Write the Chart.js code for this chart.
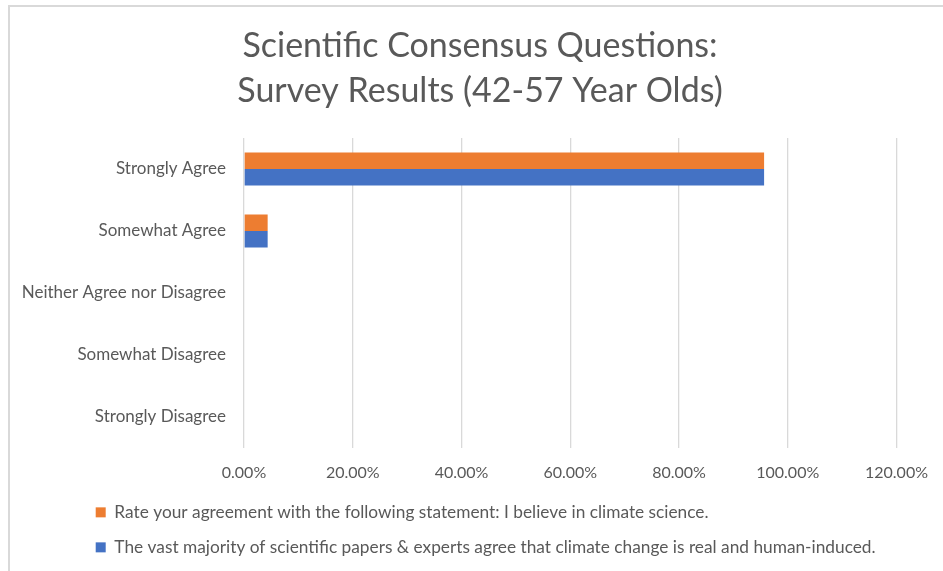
<!DOCTYPE html>
<html>
<head>
<meta charset="utf-8">
<script src="https://cdn.jsdelivr.net/npm/chart.js@4.4.0/dist/chart.umd.min.js"></script>
<style>
  html, body { margin: 0; padding: 0; background: #ffffff; }
  #wrap { position: relative; width: 943px; height: 571px; overflow: hidden; }
  #frame { position: absolute; left: 8px; top: 5px; right: -10px; bottom: -10px;
           border-left: 2px solid #d9d9d9; border-top: 2px solid #d9d9d9; pointer-events: none; }
  canvas { position: absolute; left: 0; top: 0; }
</style>
</head>
<body>
<div id="wrap">
  <div id="frame"></div>
  <canvas id="chart" width="943" height="571"></canvas>
</div>
<script>
const titleLines = ['Scientific Consensus Questions:', 'Survey Results (42-57 Year Olds)'];
const categories = ['Strongly Agree', 'Somewhat Agree', 'Neither Agree nor Disagree', 'Somewhat Disagree', 'Strongly Disagree'];
const seriesNames = [
  'Rate your agreement with the following statement: I believe in climate science.',
  'The vast majority of scientific papers & experts agree that climate change is real and human-induced.'
];
const beliefValues = [0.9565, 0.0435, 0, 0, 0];
const consensusValues = [0.9565, 0.0435, 0, 0, 0];
const tickLabels = ['0.00%', '20.00%', '40.00%', '60.00%', '80.00%', '100.00%', '120.00%'];

const FONT = 'Lato, "Open Sans", sans-serif';
const TEXT = '#595959';

const boxShift = {
  id: 'boxShift',
  afterLayout(chart) {
    if (chart.legend) { chart.legend.left = 78; }
    if (chart.titleBlock) {
      chart.titleBlock.left += 31;
      chart.titleBlock.right += 31;
    }
  }
};

new Chart(document.getElementById('chart'), {
  type: 'bar',
  data: {
    labels: categories,
    datasets: [
      { label: seriesNames[0], data: beliefValues, backgroundColor: '#ED7D31', borderWidth: 0 },
      { label: seriesNames[1], data: consensusValues, backgroundColor: '#4472C4', borderWidth: 0 }
    ]
  },
  options: {
    indexAxis: 'y',
    responsive: false,
    animation: false,
    devicePixelRatio: 1,
    categoryPercentage: 0.532,
    barPercentage: 1,
    layout: { padding: { left: 0, right: 45, top: 0, bottom: 5 } },
    scales: {
      x: {
        min: 0, max: 1.2,
        ticks: {
          stepSize: 0.2,
          color: TEXT,
          font: { family: FONT, size: 16 },
          padding: 15,
          maxRotation: 0,
          callback: (v, i) => tickLabels[i]
        },
        grid: { color: '#d9d9d9', lineWidth: 1.3, drawTicks: false },
        border: { display: false },
        afterFit(scale) { scale.height = 38; }
      },
      y: {
        ticks: { color: TEXT, font: { family: FONT, size: 17 }, padding: 18 },
        grid: { display: false, drawTicks: false },
        border: { display: false },
        afterFit(scale) { scale.width = 244; }
      }
    },
    plugins: {
      title: {
        display: true,
        text: titleLines,
        color: TEXT,
        font: { family: FONT, size: 34, weight: 'normal', lineHeight: 45 / 34 },
        padding: { top: 23.5, bottom: 24.5 }
      },
      legend: {
        position: 'bottom',
        align: 'start',
        labels: {
          color: TEXT,
          font: { family: FONT, size: 17.3 },
          boxWidth: 10,
          boxHeight: 10,
          padding: 17.7
        }
      },
      tooltip: { enabled: false }
    }
  },
  plugins: [boxShift]
});
</script>
</body>
</html>
